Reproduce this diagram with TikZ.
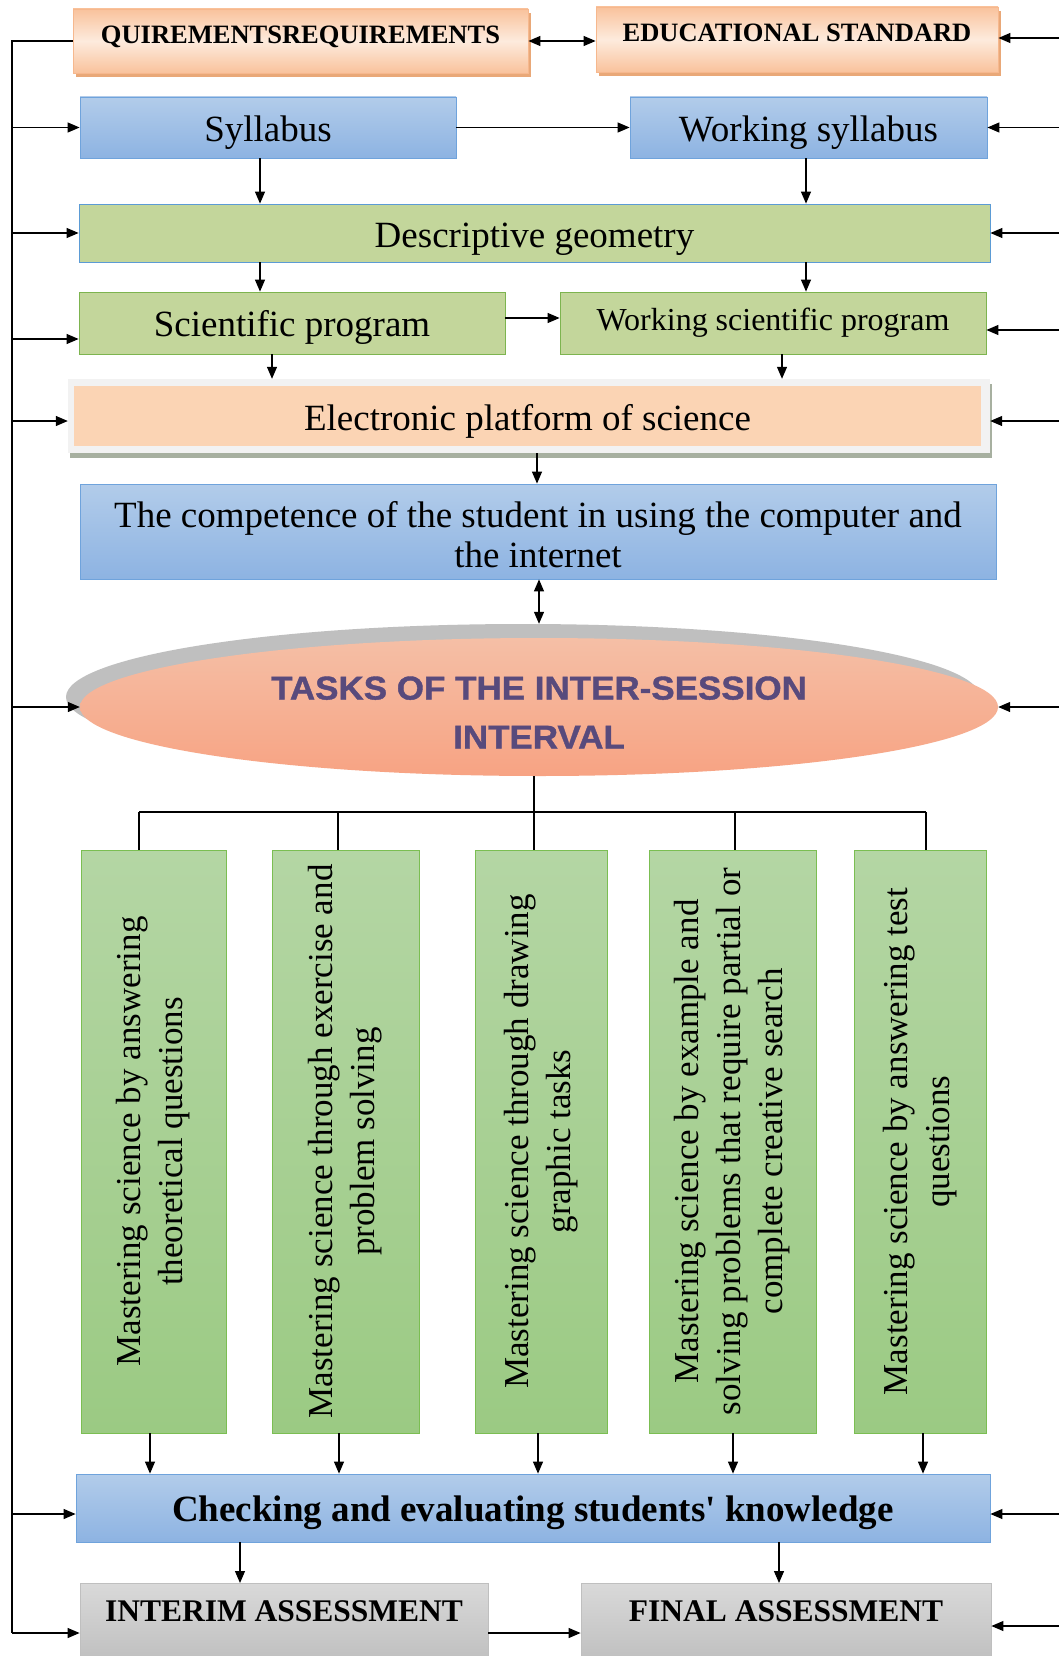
\documentclass[tikz,border=0pt]{standalone}
\usepackage{fontspec}
\setmainfont{Liberation Serif}
\newfontfamily\aposfont{Liberation Serif}[Ligatures=ResetAll]
\newfontfamily\tasksfont[FakeStretch=1.06,FakeBold=1.2]{Liberation Sans}
\usetikzlibrary{arrows.meta,shadows,shapes.geometric,calc}
\definecolor{orD}{HTML}{F9C29C}
\definecolor{orL}{HTML}{FDEBDD}
\definecolor{orS}{HTML}{E9A878}
\definecolor{orB}{HTML}{F6B88E}
\definecolor{blT}{HTML}{B2CCEA}
\definecolor{blBt}{HTML}{8DB3E2}
\definecolor{blB}{HTML}{6FA3DC}
\definecolor{lgF}{HTML}{C3D69B}
\definecolor{lgB}{HTML}{7DB44F}
\definecolor{dgB}{HTML}{5B9BD5}
\definecolor{frF}{HTML}{F2F2F2}
\definecolor{frS}{HTML}{A7B0A0}
\definecolor{peach}{HTML}{FBD4B4}
\definecolor{elT}{HTML}{F5BFA6}
\definecolor{elB}{HTML}{F7A383}
\definecolor{elS}{HTML}{BFBFBF}
\definecolor{purp}{HTML}{584A7C}
\definecolor{tgT}{HTML}{B4D6A4}
\definecolor{tgBt}{HTML}{9BCA83}
\definecolor{tgB}{HTML}{7BBE52}
\definecolor{gyT}{HTML}{D9D9D9}
\definecolor{gyBt}{HTML}{BDBDBD}
\definecolor{gyB}{HTML}{BFBFBF}
\begin{document}
\begin{tikzpicture}[x=1pt,y=-1pt,
  box/.style={rectangle, inner sep=2pt, line width=0.8pt, align=center, text=black},
  big/.style={font=\fontsize{37}{40}\selectfont, text height=36pt, text depth=8pt},
  orbox/.style={box, draw=orB, top color=orD, bottom color=orD, middle color=orL,
     drop shadow={shadow xshift=3pt, shadow yshift=-4pt, fill=orS, opacity=1},
     font=\fontsize{26.5}{30}\selectfont\bfseries, text height=18pt, text depth=13pt},
  bluebox/.style={box, draw=blB, top color=blT, bottom color=blBt},
  lgbox/.style={box, draw=lgB, fill=lgF},
  tallbox/.style={box, draw=tgB, top color=tgT, bottom color=tgBt, minimum height=583},
  vtext/.style={rotate=90, align=center, inner sep=0pt, font=\fontsize{35}{42}\selectfont},
  graybox/.style={box, draw=gyB, top color=gyT, bottom color=gyBt},
  ln/.style={line width=1.2pt, draw=black},
  arr/.style={ln, -{Triangle[length=12pt,width=10pt]}},
  darr/.style={ln, {Triangle[length=12pt,width=10pt]}-{Triangle[length=12pt,width=10pt]}}
]
\useasboundingbox (0,0) rectangle (1059,1656);
\fill[white] (0,0) rectangle (1059,1656);

% columns and rows
\coordinate (L) at (12,0);
\coordinate (R) at (1059,0);
\foreach \n/\v in {260/260,806/806,272/272,782/782,537/537,539/539,534/534,139/139,338/338,735/735,926/926,150/150,339/339,538/538,733/733,923/923,240/240,779/779}
  {\coordinate (c\n) at (\v,0);}
\foreach \n in {38,129,235,318,330,339,421,707,812,1514,1626,1633}
  {\coordinate (r\n) at (0,\n);}

% top row
\node[orbox, minimum width=455, minimum height=64] (req) at (300.5,41) {QUIREMENTSREQUIREMENTS};
\node[orbox, minimum width=402, minimum height=65] (edu) at (797,39.5) {EDUCATIONAL STANDARD};

\node[bluebox, big, minimum width=376, minimum height=61] (syl) at (268,127.5) {Syllabus};
\node[bluebox, big, minimum width=357, minimum height=61] (wsyl) at (808.5,127.5) {Working syllabus};

\node[lgbox, big, draw=dgB, minimum width=911, minimum height=58] (desc) at (534.5,233) {Descriptive geometry};

\node[lgbox, big, text height=34pt, minimum width=426, minimum height=62] (sci) at (292,323) {Scientific program};
\node[lgbox, minimum width=426, minimum height=62, font=\fontsize{32}{36}\selectfont] (wsci) at (773,323) {Working scientific program};

\node[rectangle, fill=frF, minimum width=922, minimum height=74,
  drop shadow={shadow xshift=2pt, shadow yshift=-5pt, fill=frS, opacity=1}] (elecF) at (529,416) {};
\node[box, big, fill=peach, minimum width=907, minimum height=60] (elec) at (527.5,416) {Electronic platform of science};

\node[bluebox, minimum width=916, minimum height=95] (comp) at (538,531.5) {};
\node[align=center, inner sep=0pt, font=\fontsize{37}{40}\selectfont] (compt) at (538,535) {The competence of the student in using the computer and\\the internet};

% ellipse
\node[ellipse, fill=elS, inner sep=0pt, minimum width=914, minimum height=146] (ellS) at (523,697) {};
\node[ellipse, inner sep=0pt, top color=elT, bottom color=elB, minimum width=918, minimum height=138] (ell) at (539,707) {};
\node[align=center, inner sep=0pt, text=purp, font=\tasksfont\bfseries\fontsize{33}{49}\selectfont] (ellt) at (539,712.5) {TASKS OF THE INTER-SESSION\\INTERVAL};

% tall boxes
\node[tallbox, minimum width=145] (g1) at (153.5,1141.5) {};
\node[tallbox, minimum width=147] (g2) at (345.5,1141.5) {};
\node[tallbox, minimum width=132] (g3) at (541,1141.5) {};
\node[tallbox, minimum width=167] (g4) at (732.5,1141.5) {};
\node[tallbox, minimum width=132] (g5) at (920,1141.5) {};
\node[vtext] (g1t) at (g1.center) {Mastering science by answering\\theoretical questions};
\node[vtext] (g2t) at (g2.center) {Mastering science through exercise and\\problem solving};
\node[vtext] (g3t) at (g3.center) {Mastering science through drawing\\graphic tasks};
\node[vtext] (g4t) at (g4.center) {Mastering science by example and\\solving problems that require partial or\\complete creative search};
\node[vtext] (g5t) at (g5.center) {Mastering science by answering test\\questions};

% bottom
\node[bluebox, big, font=\fontsize{37}{40}\selectfont\bfseries, text height=34pt, minimum width=914, minimum height=68] (check) at (533,1508) {Checking and evaluating students{\aposfont\bfseries '} knowledge};
\node[graybox, anchor=north, minimum width=408, minimum height=85] (interim) at (284,1583) {};
\node[graybox, anchor=north, minimum width=410, minimum height=85] (final) at (786,1583) {};
\node[font=\fontsize{31.5}{34}\selectfont\bfseries] (interimt) at (284,1611) {INTERIM ASSESSMENT};
\node[font=\fontsize{31.5}{34}\selectfont\bfseries] (finalt) at (786,1611) {FINAL ASSESSMENT};

% connectors: top
\draw[darr] (req.east) -- (req.east -| edu.west);
\draw[arr] (syl.east) -- (wsyl.west);
\draw[arr] (c260 |- syl.south) -- (c260 |- desc.north);
\draw[arr] (c806 |- wsyl.south) -- (c806 |- desc.north);
\draw[arr] (c260 |- desc.south) -- (c260 |- sci.north);
\draw[arr] (c806 |- desc.south) -- (c806 |- wsci.north);
\draw[arr] (sci.east |- r318) -- (wsci.west |- r318);
\draw[arr] (c272 |- sci.south) -- (c272 |- elecF.north);
\draw[arr] (c782 |- wsci.south) -- (c782 |- elecF.north);
\draw[arr] (c537 |- elecF.south) -- (c537 |- comp.north);
\draw[darr] (c539 |- comp.south) -- (c539 |- ellS.north);

% bus
\coordinate (bus) at (0,812);
\draw[ln] (c534 |- ell.south) -- (c534 |- bus);
\draw[ln] (c139 |- bus) -- (c926 |- bus);
\foreach \c/\g in {139/g1,338/g2,534/g3,735/g4,926/g5}
  {\draw[ln] (c\c |- bus) -- (c\c |- \g.north);}
\foreach \c/\g in {150/g1,339/g2,538/g3,733/g4,923/g5}
  {\draw[arr] (c\c |- \g.south) -- (c\c |- check.north);}
\draw[arr] (c240 |- check.south) -- (c240 |- interim.north);
\draw[arr] (c779 |- check.south) -- (c779 |- final.north);
\draw[arr] (interim.east |- r1633) -- (final.west |- r1633);

% left feedback line
\draw[ln] (req.west) -- (req.west -| L) -- (L |- r1633);
\draw[arr] (L |- syl.west) -- (syl.west);
\draw[arr] (L |- desc.west) -- (desc.west);
\draw[arr] (L |- r339) -- (sci.west |- r339);
\draw[arr] (L |- r421) -- (elecF.west |- r421);
\draw[arr] (L |- ell.west) -- (ell.west);
\draw[arr] (L |- r1514) -- (check.west |- r1514);
\draw[arr] (L |- r1633) -- (interim.west |- r1633);

% right arrows
\draw[arr] (R |- r38) -- (edu.east |- r38);
\draw[arr] (R |- wsyl.east) -- (wsyl.east);
\draw[arr] (R |- desc.east) -- (desc.east);
\draw[arr] (R |- r330) -- (wsci.east |- r330);
\draw[arr] (R |- r421) -- (elecF.east |- r421);
\draw[arr] (R |- ell.east) -- (ell.east);
\draw[arr] (R |- r1514) -- (check.east |- r1514);
\draw[arr] (R |- r1626) -- (final.east |- r1626);
\end{tikzpicture}
\end{document}
